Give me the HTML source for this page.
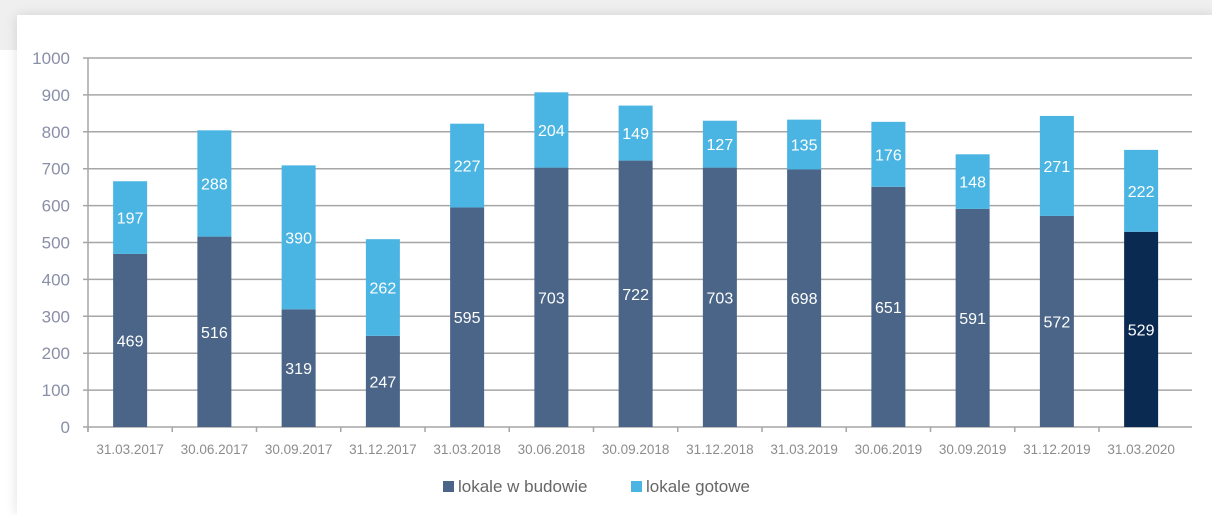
<!DOCTYPE html>
<html><head><meta charset="utf-8"><style>
body{margin:0;width:1212px;height:506px;background:#fff;overflow:hidden;font-family:"Liberation Sans",sans-serif}
#band{position:absolute;left:0;top:0;width:1212px;height:50px;background:#efefef}
#card{position:absolute;left:17px;top:15px;width:1200px;height:500px;background:#fff;box-shadow:0 0 12px rgba(0,0,0,0.12)}
svg{position:absolute;left:0;top:0}
</style></head><body>
<div id="band"></div>
<div id="card"></div>
<svg id="chart" width="1212" height="506"></svg>
<script>
const categories=["31.03.2017","30.06.2017","30.09.2017","31.12.2017","31.03.2018","30.06.2018","30.09.2018","31.12.2018","31.03.2019","30.06.2019","30.09.2019","31.12.2019","31.03.2020"];
const underConstruction=[469,516,319,247,595,703,722,703,698,651,591,572,529];
const ready=[197,288,390,262,227,204,149,127,135,176,148,271,222];
const yTicks=[0,100,200,300,400,500,600,700,800,900,1000];
const NS="http://www.w3.org/2000/svg";
const svg=document.getElementById('chart');
const x0=88,catW=84.25,y0=427,yTop=58,yMax=1000,barW=34;
function y(v){return y0-(v/yMax)*(y0-yTop);}
function cx(i){return x0+catW*(i+0.5);}
function el(tag,attrs,parent){const e=document.createElementNS(NS,tag);for(const k in attrs)e.setAttribute(k,attrs[k]);(parent||svg).appendChild(e);return e;}
yTicks.forEach(t=>{
  const g=el('line',{x1:83,x2:1192,y1:y(t),y2:y(t),stroke:'#a6a6a6','stroke-width':1.5});
  
  
  const tx=el('text',{x:70,y:y(t)+6,'text-anchor':'end','font-size':17,fill:'#8a8fa8'});
  tx.textContent=t;
  
  
});
const ax=el('line',{x1:x0,x2:x0,y1:yTop,y2:y0+5,stroke:'#a6a6a6','stroke-width':1.5});


categories.forEach((c,i)=>{
  const tk=el('line',{x1:x0+catW*i,x2:x0+catW*i,y1:y0,y2:y0+5,stroke:'#a6a6a6','stroke-width':1.5});
  
  
  const last=i===categories.length-1;
  const b=underConstruction[i],r=ready[i];
  const r1=el('rect',{x:cx(i)-barW/2,y:y(b),width:barW,height:y0-y(b),fill:last?'#0b2a52':'#4a6587'});
  
  
  const r2=el('rect',{x:cx(i)-barW/2,y:y(b+r),width:barW,height:y(b)-y(b+r),fill:'#4ab5e2'});
  
  
  const l1=el('text',{x:cx(i),y:(y(b)+y0)/2+6,'text-anchor':'middle','font-size':16,fill:'#fff'});
  l1.textContent=b;
  
  
  const l2=el('text',{x:cx(i),y:(y(b)+y(b+r))/2+6,'text-anchor':'middle','font-size':16,fill:'#fff'});
  l2.textContent=r;
  
  
  const xl=el('text',{x:cx(i),y:454,'text-anchor':'middle','font-size':13.5,fill:'#8c8c8c'});
  xl.textContent=c;
  
  
});
const lg=el('g',{});


const s1=el('rect',{x:443,y:481,width:11,height:11,fill:'#4a6587'},lg);


const t1=el('text',{x:458,y:492,'font-size':17,fill:'#666'},lg);
t1.textContent='lokale w budowie';


const s2=el('rect',{x:631,y:481,width:11,height:11,fill:'#4ab5e2'},lg);


const t2=el('text',{x:646,y:492,'font-size':17,fill:'#666'},lg);
t2.textContent='lokale gotowe';


</script>
</body></html>
